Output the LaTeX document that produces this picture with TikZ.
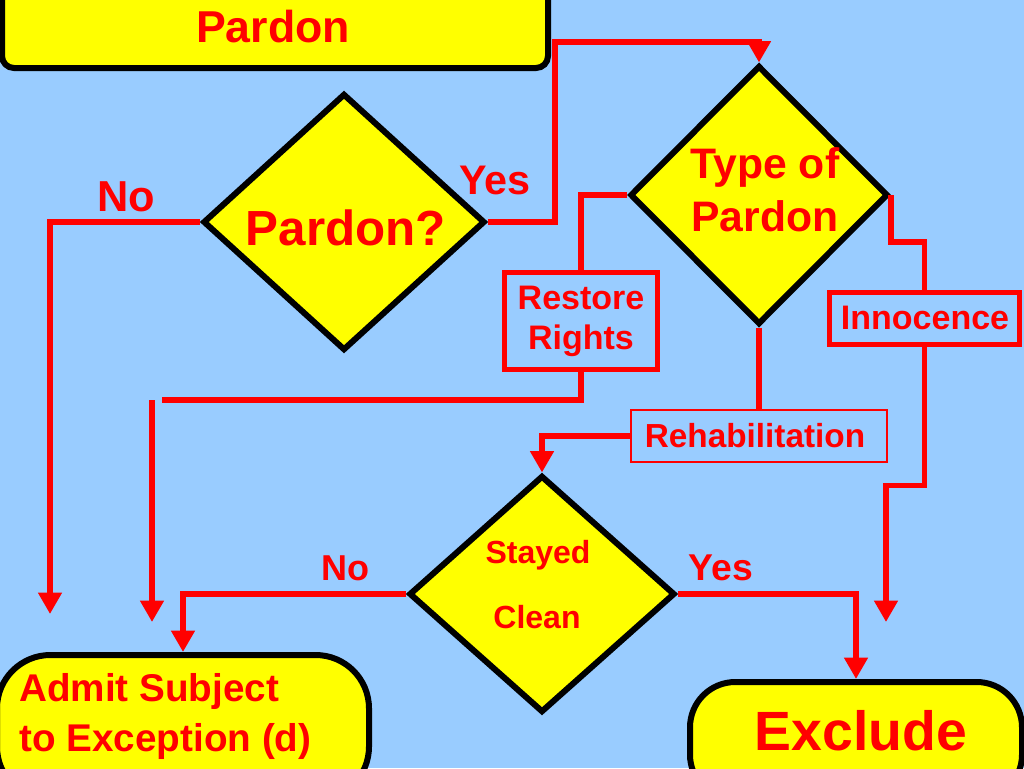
\documentclass[tikz,border=0pt]{standalone}
\usepackage{fontspec}
\setmainfont{Liberation Sans}
\usetikzlibrary{arrows.meta,shapes.geometric}
\definecolor{bg}{RGB}{153,204,255}
\definecolor{yel}{RGB}{255,255,0}
\definecolor{rd}{RGB}{255,0,0}
\tikzset{
  conn/.style={draw=rd, line width=4pt},
  arr/.style={conn, -{Triangle[width=17pt,length=16pt]}},
  dia/.style={diamond, draw=black, fill=yel, line width=4.5pt, inner sep=0pt},
  term/.style={rectangle, draw=black, fill=yel, line width=4.5pt, inner sep=0pt},
  rbox/.style={rectangle, draw=rd, line width=4pt, inner sep=0pt},
  txt/.style={text=rd, inner sep=0pt},
}
\newcommand{\fs}[1]{\bfseries\fontsize{#1}{#1}\selectfont}
\begin{document}
\begin{tikzpicture}[x=0.75pt,y=-0.75pt]
\useasboundingbox (0,0) rectangle (1024,768);
\clip (0,0) rectangle (1024,768);
\fill[bg] (0,0) rectangle (1024,768);

% shapes
\node[term, rounded corners=9pt, minimum width=409.5pt, minimum height=73.5pt] (top) at (275,19) {};
\node[dia, minimum width=211.5pt, minimum height=192.75pt] (pd) at (344,222) {};
\node[dia, minimum width=193.5pt, minimum height=194.25pt] (tp) at (759,195) {};
\node[dia, minimum width=199.5pt, minimum height=177.75pt] (sc) at (542,594) {};
\node[rbox, minimum width=114.75pt, minimum height=72.75pt] (rr) at (581,321) {};
\node[rbox, minimum width=142.5pt, minimum height=39pt] (in) at (924.5,318.5) {};
\node[rbox, line width=0.8pt, minimum width=192pt, minimum height=39pt] (rh) at (759,436) {};
\node[term, rounded corners=40pt, minimum width=279pt, minimum height=108.75pt] (ad) at (183,727.5) {};
\node[term, rounded corners=34pt, minimum width=249pt, minimum height=88.5pt] (ex) at (856,741) {};

% free ends
\coordinate (noTip) at (50,614);
\coordinate (yTop) at (555,42);
\coordinate (rrEnd) at (162,400);
\coordinate (rrStart) at (152,400);
\coordinate (rrTip) at (152,622);
\coordinate (inTip) at (886,622);

% connectors
\draw[arr] (pd.west) -| (noTip);
\draw[arr] (pd.east) -| (yTop) -| (tp.north);
\draw[conn] (tp.west) -| (rr.north);
\draw[conn] (rr.south) |- (rrEnd);
\draw[arr] (rrStart) -- (rrTip);
\draw[conn] (tp.south) -- (rh.north);
\draw[arr] (rh.west) -| (sc.north);
\draw[conn] (tp.east) -- ++(0,47) -| (in.north);
\draw[arr] (in.south) -- ++(0,138) -| (inTip);
\draw[arr] (sc.west) -| (ad.north);
\draw[arr] (sc.east) -| (ex.north);

% texts
\node[txt, font=\fs{33.5}] (tTop) at (273,27) {Pardon};
\node[txt, font=\fs{37}] (tPd) at (346,228) {Pardon?};
\node[txt, font=\fs{32.5}] (tNo1) at (126,197) {No};
\node[txt, font=\fs{31}] (tYes1) at (495,180) {Yes};
\node[txt, font=\bfseries\fontsize{32}{40}\selectfont, align=center] (tTp) at (765,190) {Type of\\Pardon};
\node[txt, font=\bfseries\fontsize{25.5}{30}\selectfont, align=center] (tRr) at (581,321) {Restore\\Rights};
\node[txt, font=\fs{25.5}] (tIn) at (925,318) {Innocence};
\node[txt, font=\fs{25}] (tRh) at (755,436) {Rehabilitation};
\node[txt, font=\fs{24}] (tSt) at (538,555) {Stayed};
\node[txt, font=\fs{24}] (tCl) at (537,617) {Clean};
\node[txt, font=\fs{27}] (tNo2) at (345,568) {No};
\node[txt, font=\fs{28}] (tYes2) at (721,568) {Yes};
\node[txt, font=\bfseries\fontsize{29}{37.5}\selectfont, align=left, anchor=west] (tAd) at (19,716) {Admit Subject\\to Exception (d)};
\node[txt, font=\fs{41.5}] (tEx) at (861,731) {Exclude};
\end{tikzpicture}
\end{document}
